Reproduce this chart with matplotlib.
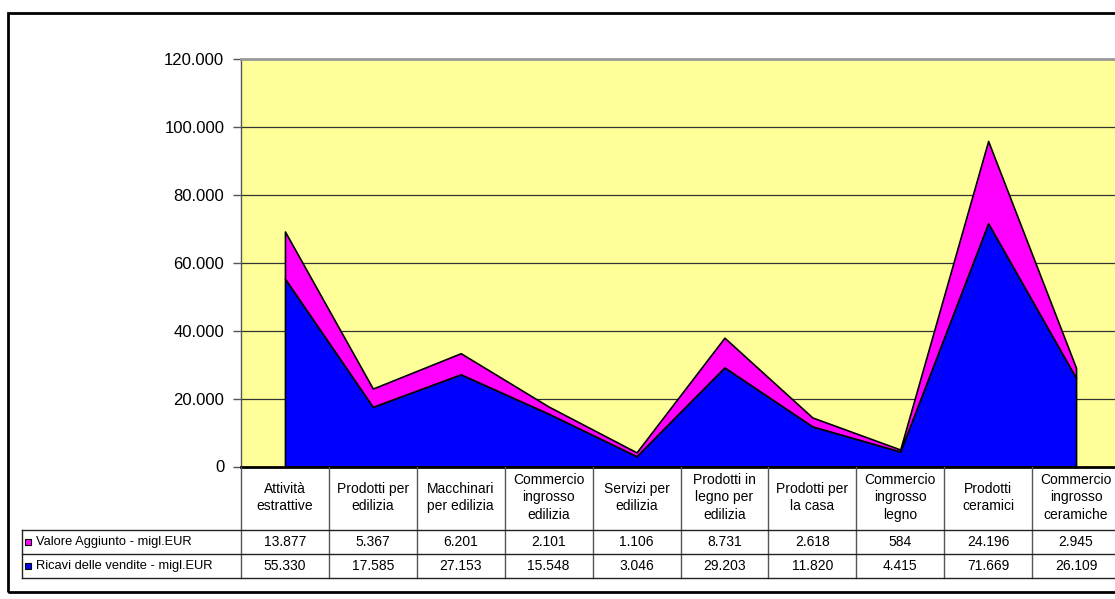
import matplotlib
matplotlib.use("Agg")
import matplotlib.pyplot as plt
from matplotlib.patches import Rectangle
from matplotlib.ticker import FuncFormatter
import numpy as np

plt.rcParams['font.family'] = ['Liberation Sans', 'DejaVu Sans']

categories = ["Attività\nestrattive", "Prodotti per\nedilizia", "Macchinari\nper edilizia",
              "Commercio\ningrosso\nedilizia", "Servizi per\nedilizia",
              "Prodotti in\nlegno per\nedilizia", "Prodotti per\nla casa",
              "Commercio\ningrosso\nlegno", "Prodotti\nceramici",
              "Commercio\ningrosso\nceramiche"]
valore_aggiunto = [13877, 5367, 6201, 2101, 1106, 8731, 2618, 584, 24196, 2945]
ricavi = [55330, 17585, 27153, 15548, 3046, 29203, 11820, 4415, 71669, 26109]
series_names = ["Valore Aggiunto - migl.EUR", "Ricavi delle vendite - migl.EUR"]
series_colors = ["#FF00FF", "#0000FF"]
y_ticks = [0, 20000, 40000, 60000, 80000, 100000, 120000]

W, H = 1115, 599


def fx(px):
    return px / W


def fy(px):
    # pixel from top -> figure fraction
    return 1 - px / H


def fmt_it(v):
    return f"{int(v):,}".replace(",", ".")


fig = plt.figure(figsize=(W / 100, H / 100), dpi=100)

# plot area (the chart is cropped on the right, so it runs past the figure edge)
plot_left, plot_right, plot_top, plot_bottom = 241, 1120, 59, 466.5
ax = fig.add_axes([fx(plot_left), fy(plot_bottom), fx(plot_right - plot_left),
                   (plot_bottom - plot_top) / H])
ax.set_facecolor("#FFFF99")

x = np.arange(len(categories))
bottom = np.array(ricavi)
top = bottom + np.array(valore_aggiunto)
ax.fill_between(x, 0, bottom, facecolor=series_colors[1], edgecolor="black", lw=1.2, zorder=3)
ax.fill_between(x, bottom, top, facecolor=series_colors[0], edgecolor="black", lw=1.2, zorder=3)

ax.set_xlim(-0.5, len(categories) - 0.5)
ax.set_ylim(0, 120000)
ax.set_yticks(y_ticks)
ax.yaxis.set_major_formatter(FuncFormatter(lambda v, p: fmt_it(v)))
ax.tick_params(axis="y", labelsize=12, length=6, width=1, color="#555555", pad=6)
ax.set_xticks([])
for yv in y_ticks[1:-1]:
    ax.axhline(yv, color="#333333", lw=0.9, zorder=1)
ax.spines["top"].set_color("#999999")
ax.spines["top"].set_linewidth(2)
ax.spines["right"].set_visible(False)
ax.spines["left"].set_color("#555555")
ax.spines["left"].set_linewidth(1)
ax.spines["bottom"].set_color("black")
ax.spines["bottom"].set_linewidth(2)
ax.spines["bottom"].set_zorder(5)

# data table under the chart, x shared with the plot, y in pixels
tab_bottom = 578
ax_t = fig.add_axes([fx(plot_left), fy(tab_bottom), fx(plot_right - plot_left),
                     (tab_bottom - plot_bottom) / H], sharex=ax)
ax_t.set_ylim(tab_bottom, plot_bottom)
ax_t.axis("off")

header_end, row1_end = 530, 554
col_w_px = (plot_right - plot_left) / len(categories)
legend_left = -0.5 - (plot_left - 21.7) / col_w_px

line_kw = dict(color="#222222", lw=1, clip_on=False)
for k in range(len(categories) + 1):
    ax_t.plot([k - 0.5, k - 0.5], [plot_bottom, tab_bottom], color="#555555", lw=1, clip_on=False)
for yy in [header_end, row1_end, tab_bottom]:
    ax_t.plot([legend_left, len(categories) - 0.5], [yy, yy], **line_kw)
ax_t.plot([legend_left, legend_left], [header_end, tab_bottom], **line_kw)

tfs = 10
for i, name in enumerate(categories):
    ax_t.text(i, 497.5, name, ha="center", va="center", fontsize=tfs, linespacing=1.3,
              clip_on=False)
    ax_t.text(i, (header_end + row1_end) / 2 + 0.5, fmt_it(valore_aggiunto[i]), ha="center",
              va="center", fontsize=tfs, clip_on=False)
    ax_t.text(i, (row1_end + tab_bottom) / 2 + 0.5, fmt_it(ricavi[i]), ha="center",
              va="center", fontsize=tfs, clip_on=False)

marker_x = legend_left + 6.5 / col_w_px
text_x = legend_left + 14.5 / col_w_px
for yy, name, c in [((header_end + row1_end) / 2, series_names[0], series_colors[0]),
                    ((row1_end + tab_bottom) / 2, series_names[1], series_colors[1])]:
    ax_t.plot([marker_x], [yy], marker="s", ms=5, mfc=c, mec="black", mew=0.8,
              clip_on=False)
    ax_t.text(text_x, yy + 0.5, name, ha="left", va="center", fontsize=9.3, clip_on=False)

# outer chart border
fig.patches.append(Rectangle((fx(7.5), fy(592)), 1.2, (592 - 12.7) / H,
                             transform=fig.transFigure, fill=False,
                             edgecolor="black", lw=2))

fig.savefig("out.png", dpi=100)
